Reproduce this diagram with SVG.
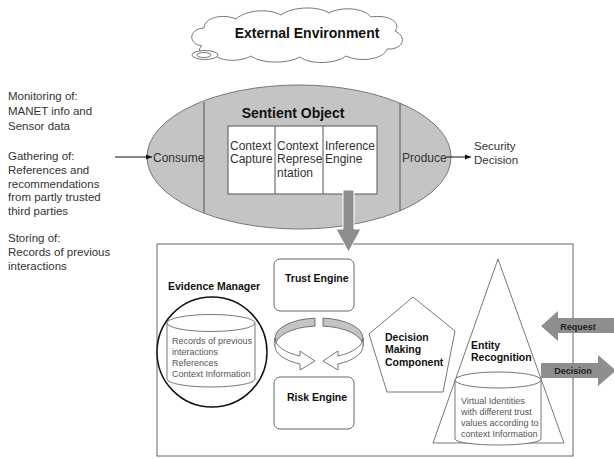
<svg xmlns="http://www.w3.org/2000/svg" width="614" height="459" viewBox="0 0 614 459">
  <style>
    text { font-family: "Liberation Sans", Arial, sans-serif; fill: #222; }
    .note { font-size: 11.5px; fill: #333; }
    .cell { font-size: 12px; fill: #333; }
    .title { font-size: 14px; font-weight: bold; fill: #111; }
    .label { font-size: 10.5px; font-weight: bold; fill: #111; }
    .small { font-size: 9px; fill: #555; }
    .tag { font-size: 9px; font-weight: bold; fill: #222; }
    .thin { fill: #fff; stroke: #555; stroke-width: 0.8; }
    .box { fill: #fff; stroke: #666; stroke-width: 1; }
    .block { fill: #8e8e8e; stroke: #fff; stroke-width: 1; }
    .wire { fill: none; stroke: #111; stroke-width: 1; }
  </style>
  <defs>
    <marker id="tip" viewBox="0 0 10 10" refX="10" refY="5" markerWidth="6" markerHeight="6" orient="auto">
      <path d="M0,1 L10,5 L0,9 Z" fill="#111"/>
    </marker>
  </defs>

  <rect width="614" height="459" fill="#fff"/>

  <!-- external environment cloud -->
  <g id="external-environment">
    <path class="thin" d="M202,46 C188,44 188,29 204,28 C204,18 222,13 236,19 C246,10 268,8 281,15 C293,6 319,6 329,13 C342,6 364,8 371,17 C389,14 402,23 395,31 C408,37 403,50 387,49 C384,59 361,63 346,56 C336,64 310,65 300,57 C288,64 261,64 251,56 C239,63 216,61 214,53 C204,55 195,51 202,46 Z"/>
    <ellipse cx="205" cy="55" rx="13" ry="4.5" fill="#fff" stroke="#555" stroke-width="0.8"/>
    <ellipse cx="204" cy="55" rx="7" ry="2.5" fill="#fff" stroke="#555" stroke-width="0.8"/>
    <text class="title" x="307" y="38" text-anchor="middle">External Environment</text>
  </g>

  <!-- sensing notes -->
  <g id="inputs">
    <text class="note" x="8" y="100">Monitoring of:</text>
    <text class="note" x="8" y="115">MANET info and</text>
    <text class="note" x="8" y="130">Sensor data</text>
    <text class="note" x="8" y="160">Gathering of:</text>
    <text class="note" x="8" y="174">References and</text>
    <text class="note" x="8" y="188">recommendations</text>
    <text class="note" x="8" y="201">from partly trusted</text>
    <text class="note" x="8" y="215">third parties</text>
    <text class="note" x="8" y="242">Storing of:</text>
    <text class="note" x="8" y="256">Records of previous</text>
    <text class="note" x="8" y="270">interactions</text>
  </g>

  <!-- sentient object -->
  <g id="sentient-object">
    <ellipse cx="299" cy="157" rx="152" ry="72" fill="#c4c4c4" stroke="#777" stroke-width="1"/>
    <line x1="204" y1="102" x2="204" y2="213" stroke="#555" stroke-width="1"/>
    <line x1="400" y1="103" x2="400" y2="211" stroke="#555" stroke-width="1"/>
    <text class="title" x="293" y="118" text-anchor="middle">Sentient Object</text>
    <text class="cell" x="153" y="162">Consume</text>
    <text class="cell" x="402" y="162">Produce</text>
    <rect x="228" y="126" width="149" height="68" fill="#fff" stroke="#555" stroke-width="1"/>
    <line x1="275" y1="126" x2="275" y2="194" stroke="#555" stroke-width="1"/>
    <line x1="323" y1="126" x2="323" y2="194" stroke="#555" stroke-width="1"/>
    <text class="cell" x="230" y="150">Context</text>
    <text class="cell" x="230" y="163">Capture</text>
    <text class="cell" x="277" y="150">Context</text>
    <text class="cell" x="277" y="163">Represe</text>
    <text class="cell" x="277" y="177">ntation</text>
    <text class="cell" x="325" y="150">Inference</text>
    <text class="cell" x="325" y="163">Engine</text>
  </g>

  <g id="security-decision">
    <text class="note" x="474" y="150">Security</text>
    <text class="note" x="474" y="164">Decision</text>
  </g>

  <!-- trust framework -->
  <g id="framework">
    <rect x="157" y="244" width="416" height="212" fill="#fff" stroke="#666" stroke-width="1"/>
  </g>

  <g id="evidence-manager">
    <text class="label" x="168" y="290">Evidence Manager</text>
    <circle cx="212" cy="352" r="55" fill="#fff" stroke="#111" stroke-width="1.5"/>
    <path class="thin" d="M167,323 L167,379 A44,8 0 0 0 255,379 L255,323"/>
    <ellipse cx="211" cy="323" rx="44" ry="8.5" class="thin"/>
    <text class="small" x="172" y="344">Records of previous</text>
    <text class="small" x="172" y="355">interactions</text>
    <text class="small" x="172" y="366">References</text>
    <text class="small" x="172" y="377">Context Information</text>
  </g>

  <g id="trust-engine">
    <rect class="box" x="274" y="259" width="80" height="52" rx="6"/>
    <text class="label" x="285" y="282">Trust Engine</text>
  </g>

  <g id="risk-engine">
    <rect class="box" x="274" y="377" width="80" height="52" rx="6"/>
    <text class="label" x="287" y="401">Risk Engine</text>
  </g>

  <g id="decision-making">
    <polygon class="thin" points="413,297 455,331 443,392 387,392 369,334"/>
    <text class="label" x="385" y="341">Decision</text>
    <text class="label" x="385" y="353">Making</text>
    <text class="label" x="385" y="366">Component</text>
  </g>

  <g id="entity-recognition">
    <polygon class="thin" points="498,259 564,443 433,443"/>
    <path class="thin" d="M455,380 L455,439 A43,6 0 0 0 541,439 L541,380"/>
    <ellipse cx="498" cy="380" rx="43" ry="8" class="thin"/>
    <text class="label" x="471" y="349">Entity</text>
    <text class="label" x="471" y="361">Recognition</text>
    <text class="small" x="461" y="404">Virtual Identities</text>
    <text class="small" x="461" y="415">with different trust</text>
    <text class="small" x="461" y="426">values according to</text>
    <text class="small" x="461" y="437">context Information</text>
  </g>

  <!-- connectors -->
  <g id="connectors">
    <line class="wire" x1="115" y1="157" x2="152" y2="157" marker-end="url(#tip)"/>
    <line class="wire" x1="446" y1="157" x2="471" y2="157" marker-end="url(#tip)"/>
    <path class="block" d="M343,190 L354,190 L354,229 L361,229 L348.5,252 L336,229 L343,229 Z"/>
    <!-- trust / risk feedback ring -->
    <path d="M315,318.1 A44,20 0 0 0 275,338 L275,346 A44,20 0 0 1 315,326.1 Z" fill="#c4c4c4" stroke="#555" stroke-width="0.8"/>
    <path d="M275,338 A44,20 0 0 0 300,356 L300,351 L315,361 L300,370 L300,364 A44,20 0 0 1 275,346 Z" fill="#fff" stroke="#555" stroke-width="0.8"/>
    <path d="M323,318.1 A44,20 0 0 1 363,338 L363,346 A44,20 0 0 0 323,326.1 Z" fill="#c4c4c4" stroke="#555" stroke-width="0.8"/>
    <path d="M363,338 A44,20 0 0 1 338,356 L338,351 L323,361 L338,370 L338,364 A44,20 0 0 0 363,346 Z" fill="#fff" stroke="#555" stroke-width="0.8"/>
    <!-- request in, decision out -->
    <path d="M541,326 L558,311 L558,318 L616,318 L616,333 L558,333 L558,341 Z" fill="#8e8e8e"/>
    <text class="tag" x="578" y="330" text-anchor="middle">Request</text>
    <path d="M541,363 L598,363 L598,355 L616,370.5 L598,386 L598,378 L541,378 Z" fill="#8e8e8e"/>
    <text class="tag" x="573" y="374" text-anchor="middle">Decision</text>
  </g>
</svg>
